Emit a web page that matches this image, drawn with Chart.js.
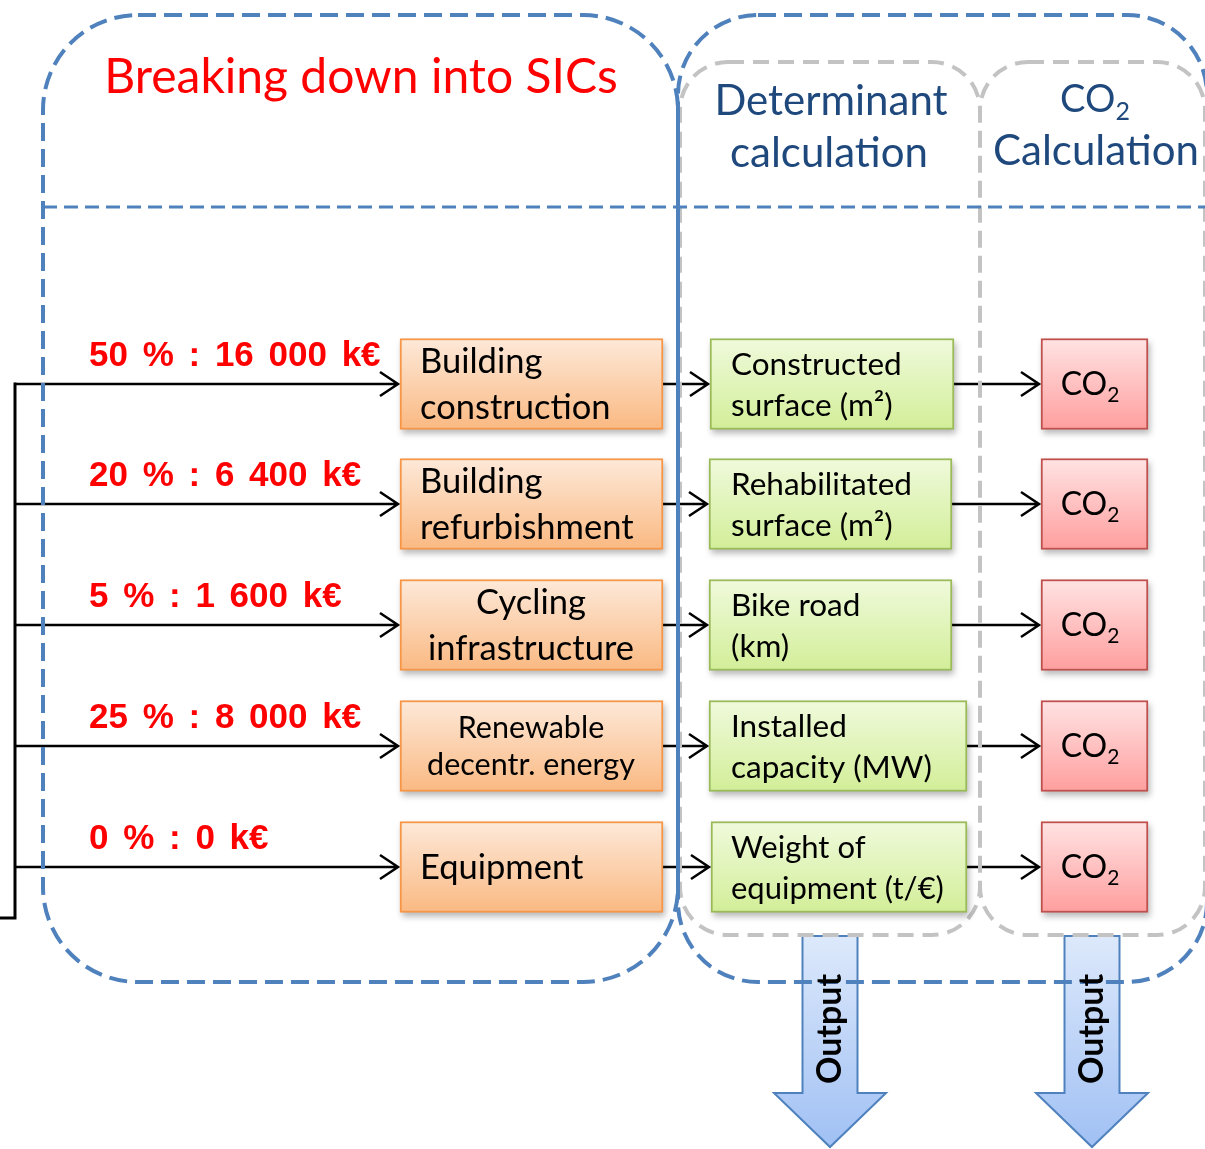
<!DOCTYPE html>
<html>
<head>
<meta charset="utf-8">
<script src="https://cdn.jsdelivr.net/npm/chart.js@4.4.1/dist/chart.umd.min.js"></script>
<style>
  html, body { margin: 0; padding: 0; background: #fff; overflow: hidden; }
  canvas { display: block; }
</style>
</head>
<body>
<canvas id="sicChart" width="1205" height="1149"></canvas>
<script>
/* ==================
    DATOS
================== */
const sicLabels = [["Building", "construction"], ["Building", "refurbishment"], ["Cycling", "infrastructure"], ["Renewable", "decentr. energy"], ["Equipment"]];
const sharePercent = [50, 20, 5, 25, 0];
const amountKEur = [16000, 6400, 1600, 8000, 0];
const determinantLabels = [["Constructed", "surface (m²)"], ["Rehabilitated", "surface (m²)"], ["Bike road", "(km)"], ["Installed", "capacity (MW)"], ["Weight of", "equipment (t/€)"]];
const sectionTitles = ["Breaking down into SICs", "Determinant", "calculation", "Calculation"];
const outputLabel = "Output";

/* ==================
    MAQUETACION
================== */
const filasY = [384, 504, 625, 746, 867];
const ALTO_CAJA = 91;
const cajaSicX = [400, 663];
const cajaDetX0 = [710, 709, 709, 709, 711];
const cajaDetX1 = [954, 952, 952, 967, 967];
const cajaCo2X = [1041, 1148];

const FUENTE = "Lato, 'Open Sans', sans-serif";

function formatoMiles(n) {
    return String(n).replace(/\B(?=(\d{3})+(?!\d))/g, " ");
}

function degradado(arriba, abajo) {
    return (context) => {
        const chart = context.chart;
        if (context.type !== "data" || !chart.chartArea) {
            return abajo;
        }
        const yc = chart.scales.y.getPixelForValue(context.raw.y);
        const g = chart.ctx.createLinearGradient(0, yc - ALTO_CAJA / 2, 0, yc + ALTO_CAJA / 2);
        g.addColorStop(0, arriba);
        g.addColorStop(1, abajo);
        return g;
    };
}

function datasetCajas(label, x0s, x1s, arriba, abajo, borde) {
    return {
        label: label,
        data: filasY.map((y, i) => ({ y: y, x: [x0s[i], x1s[i]] })),
        backgroundColor: degradado(arriba, abajo),
        borderColor: borde,
        borderWidth: 2,
        borderSkipped: false,
        barThickness: ALTO_CAJA,
        grouped: false,
    };
}

/* ==================
    DIBUJO AUXILIAR
================== */
function flecha(ctx, x0, x1, y) {
    ctx.beginPath();
    ctx.moveTo(x0, y);
    ctx.lineTo(x1, y);
    ctx.moveTo(x1 - 18, y - 12);
    ctx.lineTo(x1, y);
    ctx.lineTo(x1 - 18, y + 12);
    ctx.stroke();
}

function flechaBloque(ctx, X, Y, cx) {
    const path = [
        [cx - 27.5, 936], [cx + 27.5, 936], [cx + 27.5, 1093], [cx + 56, 1093],
        [cx, 1147], [cx - 56, 1093], [cx - 27.5, 1093],
    ];
    ctx.beginPath();
    path.forEach(([x, y], i) => {
        if (i === 0) ctx.moveTo(X(x), Y(y));
        else ctx.lineTo(X(x), Y(y));
    });
    ctx.closePath();
    const g = ctx.createLinearGradient(0, Y(936), 0, Y(1147));
    g.addColorStop(0, "#dde9fb");
    g.addColorStop(1, "#a0c0f4");
    ctx.fillStyle = g;
    ctx.fill();
    ctx.strokeStyle = "#4f81bd";
    ctx.lineWidth = 2;
    ctx.stroke();
}

function panel(ctx, x0, y0, x1, y1, r, color, ancho, dash) {
    ctx.save();
    ctx.strokeStyle = color;
    ctx.lineWidth = ancho;
    ctx.setLineDash(dash);
    ctx.beginPath();
    ctx.roundRect(x0, y0, x1 - x0, y1 - y0, r);
    ctx.stroke();
    ctx.restore();
}

// partes: [{t, sub}]
function textoRico(ctx, partes, x, y, size, align, color, peso) {
    const fontNormal = `${peso || ""} ${size}px ${FUENTE}`;
    const fontSub = `${peso || ""} ${Math.round(size * 0.66)}px ${FUENTE}`;
    let total = 0;
    partes.forEach((p) => {
        ctx.font = p.sub ? fontSub : fontNormal;
        total += ctx.measureText(p.t).width;
    });
    let cx = align === "center" ? x - total / 2 : x;
    ctx.fillStyle = color;
    ctx.textAlign = "left";
    ctx.textBaseline = "alphabetic";
    partes.forEach((p) => {
        ctx.font = p.sub ? fontSub : fontNormal;
        ctx.fillText(p.t, cx, p.sub ? y + size * 0.22 : y);
        cx += ctx.measureText(p.t).width;
    });
}

function lineasCaja(ctx, lineas, x, yc, size, gap, align) {
    ctx.font = `${size}px ${FUENTE}`;
    ctx.fillStyle = "#000";
    ctx.textAlign = align;
    ctx.textBaseline = "alphabetic";
    const n = lineas.length;
    lineas.forEach((l, i) => {
        ctx.fillText(l, x, yc + size * 0.36 + (i - (n - 1) / 2) * gap);
    });
}

/* ==================
    PLUGIN DIAGRAMA
================== */
const pluginDiagrama = {
    id: "diagrama",
    beforeDatasetsDraw(chart) {
        const ctx = chart.ctx;
        const X = (v) => chart.scales.x.getPixelForValue(v);
        const Y = (v) => chart.scales.y.getPixelForValue(v);

        ctx.save();

        // flechas de salida
        flechaBloque(ctx, X, Y, 830);
        flechaBloque(ctx, X, Y, 1092);

        // conectores negros
        ctx.strokeStyle = "#000";
        ctx.lineCap = "butt";
        ctx.lineJoin = "miter";
        ctx.lineWidth = 3;
        ctx.beginPath();
        ctx.moveTo(X(15), Y(filasY[0]) - 1.5);
        ctx.lineTo(X(15), Y(918));
        ctx.lineTo(X(0), Y(918));
        ctx.stroke();

        ctx.lineWidth = 2.5;
        filasY.forEach((f, i) => {
            flecha(ctx, X(15), X(cajaSicX[0] - 2), Y(f));
            flecha(ctx, X(cajaSicX[1]), X(cajaDetX0[i] - 2), Y(f));
            flecha(ctx, X(cajaDetX1[i]), X(cajaCo2X[0] - 2), Y(f));
        });

        // paneles punteados
        panel(ctx, X(680), Y(62), X(980), Y(935), 48, "#c3c3c3", 4, [16, 9]);
        panel(ctx, X(980), Y(62), X(1205), Y(935), 48, "#c3c3c3", 4, [16, 9]);
        panel(ctx, X(43), Y(15), X(678), Y(982), 95, "#4f81bd", 4, [18, 8]);
        panel(ctx, X(678), Y(15), X(1207), Y(982), 80, "#4f81bd", 4, [18, 8]);

        ctx.save();
        ctx.strokeStyle = "#4f81bd";
        ctx.lineWidth = 3;
        ctx.setLineDash([14, 7]);
        ctx.beginPath();
        ctx.moveTo(X(43), Y(207));
        ctx.lineTo(X(1205), Y(207));
        ctx.stroke();
        ctx.restore();

        // sombras de las cajas
        ctx.fillStyle = "rgba(0,0,0,0.28)";
        ctx.filter = "blur(3px)";
        chart.data.datasets.forEach((ds, di) => {
            chart.getDatasetMeta(di).data.forEach((el) => {
                const p = el.getProps(["x", "y", "base", "height"], true);
                const izq = Math.min(p.x, p.base);
                ctx.fillRect(izq + 2, p.y - p.height / 2 + 4, Math.abs(p.x - p.base), p.height);
            });
        });
        ctx.filter = "none";

        ctx.restore();
    },
    afterDatasetsDraw(chart) {
        const ctx = chart.ctx;
        const X = (v) => chart.scales.x.getPixelForValue(v);
        const Y = (v) => chart.scales.y.getPixelForValue(v);

        ctx.save();

        // titulos
        ctx.textBaseline = "alphabetic";
        ctx.textAlign = "center";
        ctx.fillStyle = "#ff0000";
        ctx.font = `48px ${FUENTE}`;
        ctx.fillText(sectionTitles[0], X(361), Y(93));

        ctx.fillStyle = "#1f497d";
        ctx.font = `42px ${FUENTE}`;
        ctx.fillText(sectionTitles[1], X(831), Y(115));
        ctx.fillText(sectionTitles[2], X(829), Y(167));
        textoRico(ctx, [{ t: "CO" }, { t: "2", sub: true }], X(1095), Y(112), 38, "center", "#1f497d");
        ctx.textAlign = "center";
        ctx.font = `42px ${FUENTE}`;
        ctx.fillText(sectionTitles[3], X(1096), Y(165));

        // etiquetas de reparto
        ctx.fillStyle = "#ff0000";
        ctx.textAlign = "left";
        ctx.font = "bold 35px 'Liberation Sans', Arial, sans-serif";
        ctx.wordSpacing = "5px";
        filasY.forEach((f, i) => {
            const txt = `${sharePercent[i]} % : ${formatoMiles(amountKEur[i])} k€`;
            ctx.fillText(txt, X(89), Y(f - 18));
        });
        ctx.wordSpacing = "0px";

        // textos de cajas SIC
        const estiloSic = [
            { align: "left", x: 420, size: 34.5, gap: 46 },
            { align: "left", x: 420, size: 34.5, gap: 46 },
            { align: "center", x: 531, size: 34.5, gap: 46 },
            { align: "center", x: 531, size: 30.5, gap: 37 },
            { align: "left", x: 420, size: 34.5, gap: 46 },
        ];
        filasY.forEach((f, i) => {
            const e = estiloSic[i];
            lineasCaja(ctx, sicLabels[i], X(e.x), Y(f), e.size, e.gap, e.align);
        });

        // textos de cajas determinante
        filasY.forEach((f, i) => {
            const size = i === 4 ? 31 : 31.5;
            lineasCaja(ctx, determinantLabels[i], X(731), Y(f), size, 41, "left");
        });

        // CO2
        filasY.forEach((f) => {
            textoRico(ctx, [{ t: "CO" }, { t: "2", sub: true }], X(1090), Y(f + 11), 32, "center", "#000");
        });

        // texto Output girado
        [830, 1092].forEach((cx) => {
            ctx.save();
            ctx.translate(X(cx), Y(1029));
            ctx.rotate(-Math.PI / 2);
            ctx.fillStyle = "#000";
            ctx.textAlign = "center";
            ctx.textBaseline = "middle";
            ctx.font = `bold 34px ${FUENTE}`;
            ctx.fillText(outputLabel, 0, 0);
            ctx.restore();
        });

        ctx.restore();
    },
};

/* ==================
    GRAFICA
================== */
function renderizarDiagrama() {
    const canvas = document.getElementById("sicChart");
    if (!canvas || typeof Chart === "undefined") {
        return;
    }

    new Chart(canvas.getContext("2d"), {
        type: "bar",
        data: {
            datasets: [
                datasetCajas("SIC", filasY.map(() => cajaSicX[0]), filasY.map(() => cajaSicX[1]), "#fde9d9", "#fab982", "#f79646"),
                datasetCajas("Determinant", cajaDetX0, cajaDetX1, "#f0fadc", "#d2ee98", "#9bbb59"),
                datasetCajas("CO2", filasY.map(() => cajaCo2X[0]), filasY.map(() => cajaCo2X[1]), "#ffe3e3", "#ff9e9e", "#c0504d"),
            ],
        },
        options: {
            indexAxis: "y",
            responsive: false,
            animation: false,
            events: [],
            devicePixelRatio: 1,
            layout: { padding: 0 },
            plugins: {
                legend: { display: false },
                tooltip: { enabled: false },
            },
            scales: {
                x: { type: "linear", min: 0, max: 1205, offset: false, display: false },
                y: { type: "linear", min: 0, max: 1149, reverse: true, offset: false, display: false },
            },
        },
        plugins: [pluginDiagrama],
    });
}

if (document.readyState === "loading") {
    document.addEventListener("DOMContentLoaded", renderizarDiagrama);
} else {
    renderizarDiagrama();
}
</script>
</body>
</html>
